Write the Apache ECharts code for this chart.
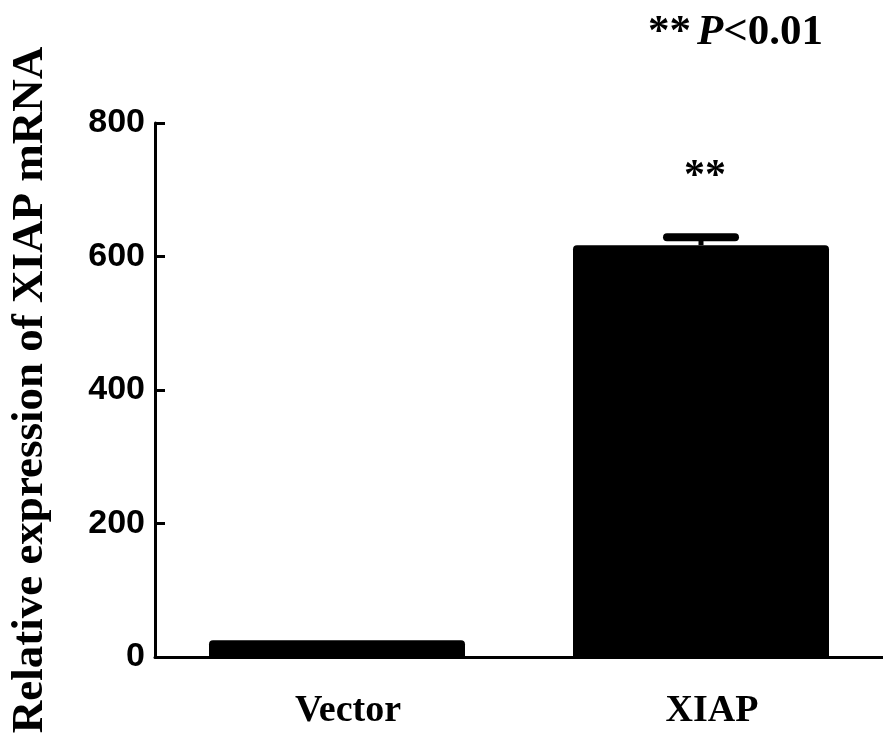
<!DOCTYPE html>
<html><head><meta charset="utf-8">
<script src="https://cdn.jsdelivr.net/npm/echarts@6/dist/echarts.min.js"></script>
<style>html,body{margin:0;padding:0;background:#fff}#c{width:883px;height:741px}</style>
</head><body><div id="c"></div>
<script>
var categories = ['Vector', 'XIAP'];
var means = [25, 617];
var errTops = [null, 629];
var marks = ['', '**'];
var yTicks = [0, 200, 400, 600, 800];

var chart = echarts.init(document.getElementById('c'), null, {renderer: 'canvas'});
var errData = [];
for (var i = 0; i < categories.length; i++) {
  if (errTops[i] != null) errData.push([i, means[i], errTops[i], marks[i]]);
}
chart.setOption({
  animation: false,
  backgroundColor: '#fff',
  grid: {left: 153, right: -7, top: 123, bottom: 84, containLabel: false},
  xAxis: {
    type: 'category', data: categories,
    axisLine: {lineStyle: {color: '#000', width: 3}},
    axisTick: {show: false},
    axisLabel: {color: '#000', fontFamily: 'Liberation Serif', fontWeight: 'bold', fontSize: 38, margin: 35, padding: [0, 0, 0, 22]}
  },
  yAxis: {
    type: 'value', min: yTicks[0], max: yTicks[yTicks.length - 1], interval: 200,
    name: 'Relative expression of XIAP mRNA', nameLocation: 'middle', nameGap: 102, nameRotate: 90,
    nameTextStyle: {color: '#000', fontFamily: 'Liberation Serif', fontWeight: 'bold', fontSize: 45},
    axisLine: {show: true, lineStyle: {color: '#000', width: 3}},
    axisTick: {show: true, inside: true, length: 10, lineStyle: {color: '#000', width: 3}},
    splitLine: {show: false},
    axisLabel: {color: '#000', fontFamily: 'Liberation Sans', fontWeight: 'bold', fontSize: 34, margin: 10}
  },
  series: [
    {type: 'bar', data: means, barWidth: 256, itemStyle: {color: '#000', borderRadius: [4, 4, 0, 0]}, z: 2},
    {type: 'custom', data: errData, z: 3,
      renderItem: function (params, api) {
        var x = api.value(0);
        var p1 = api.coord([x, api.value(1)]);
        var p2 = api.coord([x, api.value(2)]);
        var hw = 34;
        return {type: 'group', children: [
          {type: 'line', shape: {x1: p1[0], y1: p1[1], x2: p2[0], y2: p2[1]}, style: {stroke: '#000', lineWidth: 5}},
          {type: 'line', shape: {x1: p2[0] - hw, y1: p2[1], x2: p2[0] + hw, y2: p2[1]}, style: {stroke: '#000', lineWidth: 8, lineCap: 'round'}},
          {type: 'text', x: p2[0] + 4, y: p2[1] - 60, style: {text: api.value(3), fill: '#000', font: 'bold 42px "Liberation Serif"', align: 'center', verticalAlign: 'middle'}}
        ]};
      }
    }
  ],
  graphic: [
    {type: 'text', left: 648, top: 11,
      style: {text: '{a|**}{b|P}{c|<0.01}', rich: {
        a: {font: 'bold 43px "Liberation Serif"', fill: '#000'},
        b: {font: 'italic bold 43px "Liberation Serif"', fill: '#000', padding: [0, 0, 0, 6]},
        c: {font: 'bold 43px "Liberation Serif"', fill: '#000'}
      }}}
  ]
});
</script></body></html>
